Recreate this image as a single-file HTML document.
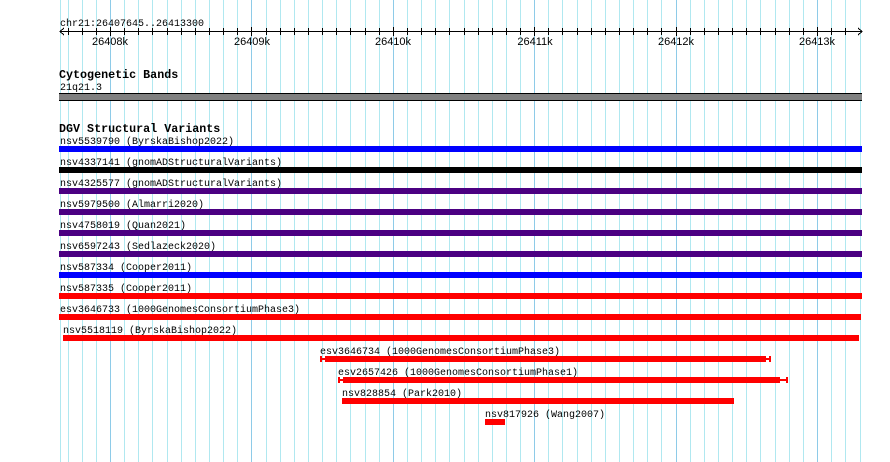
<!DOCTYPE html>
<html><head><meta charset="utf-8"><style>
html,body{margin:0;padding:0;background:#fff}
svg{display:block}
.m{font-family:"Liberation Mono","DejaVu Sans Mono",monospace;font-size:10px;fill:#000}
.b{font-family:"Liberation Mono","DejaVu Sans Mono",monospace;font-size:11.7px;font-weight:bold;fill:#000}
.t{font-family:"Liberation Sans","DejaVu Sans",sans-serif;font-size:11px;fill:#000}
</style></head><body>
<svg width="890" height="462" xmlns="http://www.w3.org/2000/svg" shape-rendering="crispEdges">
<path stroke="#b0e8f0" stroke-width="1" fill="none" d="M60.5 0V462M68.5 0V462M82.5 0V462M96.5 0V462M124.5 0V462M138.5 0V462M152.5 0V462M167.5 0V462M181.5 0V462M195.5 0V462M209.5 0V462M223.5 0V462M237.5 0V462M266.5 0V462M280.5 0V462M294.5 0V462M308.5 0V462M322.5 0V462M336.5 0V462M350.5 0V462M365.5 0V462M379.5 0V462M407.5 0V462M421.5 0V462M435.5 0V462M449.5 0V462M464.5 0V462M478.5 0V462M492.5 0V462M506.5 0V462M520.5 0V462M548.5 0V462M562.5 0V462M577.5 0V462M591.5 0V462M605.5 0V462M619.5 0V462M633.5 0V462M647.5 0V462M661.5 0V462M690.5 0V462M704.5 0V462M718.5 0V462M732.5 0V462M746.5 0V462M760.5 0V462M775.5 0V462M789.5 0V462M803.5 0V462M831.5 0V462M845.5 0V462M860.5 0V462"/>
<path stroke="#8ecbe8" stroke-width="1" fill="none" d="M110.5 0V462M251.5 0V462M393.5 0V462M534.5 0V462M676.5 0V462M817.5 0V462"/>
<path stroke="#000" stroke-width="1" fill="none" d="M68.5 28V35M82.5 28V35M96.5 28V35M124.5 28V35M138.5 28V35M152.5 28V35M167.5 28V35M181.5 28V35M195.5 28V35M209.5 28V35M223.5 28V35M237.5 28V35M266.5 28V35M280.5 28V35M294.5 28V35M308.5 28V35M322.5 28V35M336.5 28V35M350.5 28V35M365.5 28V35M379.5 28V35M407.5 28V35M421.5 28V35M435.5 28V35M449.5 28V35M464.5 28V35M478.5 28V35M492.5 28V35M506.5 28V35M520.5 28V35M548.5 28V35M562.5 28V35M577.5 28V35M591.5 28V35M605.5 28V35M619.5 28V35M633.5 28V35M647.5 28V35M661.5 28V35M690.5 28V35M704.5 28V35M718.5 28V35M732.5 28V35M746.5 28V35M760.5 28V35M775.5 28V35M789.5 28V35M803.5 28V35M831.5 28V35M845.5 28V35M110.5 27V36M251.5 27V36M393.5 27V36M534.5 27V36M676.5 27V36M817.5 27V36"/>
<text class="m" x="60" y="26">chr21:26407645..26413300</text>
<line x1="60" y1="31.5" x2="862" y2="31.5" stroke="#000"/>
<polyline points="64,28 60,31.5 64,35" fill="none" stroke="#000"/>
<polyline points="858,28 862,31.5 858,35" fill="none" stroke="#000"/>
<g class="t" text-anchor="middle">
<text x="110" y="45">26408k</text><text x="252" y="45">26409k</text><text x="393" y="45">26410k</text>
<text x="535" y="45">26411k</text><text x="676" y="45">26412k</text><text x="817" y="45">26413k</text>
</g>
<text class="b" x="59" y="78">Cytogenetic Bands</text>
<text class="m" x="60" y="90">21q21.3</text>
<rect x="59" y="93" width="803" height="8" fill="#000"/>
<rect x="59" y="94" width="803" height="6" fill="#808080"/>
<text class="b" x="59" y="132">DGV Structural Variants</text>
<g class="m">
<text x="60" y="144">nsv5539790 (ByrskaBishop2022)</text>
<text x="60" y="165">nsv4337141 (gnomADStructuralVariants)</text>
<text x="60" y="186">nsv4325577 (gnomADStructuralVariants)</text>
<text x="60" y="207">nsv5979500 (Almarri2020)</text>
<text x="60" y="228">nsv4758019 (Quan2021)</text>
<text x="60" y="249">nsv6597243 (Sedlazeck2020)</text>
<text x="60" y="270">nsv587334 (Cooper2011)</text>
<text x="60" y="291">nsv587335 (Cooper2011)</text>
<text x="60" y="312">esv3646733 (1000GenomesConsortiumPhase3)</text>
<text x="63" y="333">nsv5518119 (ByrskaBishop2022)</text>
<text x="320" y="354">esv3646734 (1000GenomesConsortiumPhase3)</text>
<text x="338" y="375">esv2657426 (1000GenomesConsortiumPhase1)</text>
<text x="342" y="396">nsv828854 (Park2010)</text>
<text x="485" y="417">nsv817926 (Wang2007)</text>
</g>
<rect x="59" y="146" width="803" height="6" fill="#0000ff"/>
<rect x="59" y="167" width="803" height="6" fill="#000"/>
<rect x="59" y="188" width="803" height="6" fill="#4b0082"/>
<rect x="59" y="209" width="803" height="6" fill="#4b0082"/>
<rect x="59" y="230" width="803" height="6" fill="#4b0082"/>
<rect x="59" y="251" width="803" height="6" fill="#4b0082"/>
<rect x="59" y="272" width="803" height="6" fill="#0000ff"/>
<rect x="59" y="293" width="803" height="6" fill="#ff0000"/>
<rect x="59" y="314" width="802" height="6" fill="#ff0000"/>
<rect x="63" y="335" width="796" height="6" fill="#ff0000"/>
<rect x="320" y="356" width="2" height="6" fill="#ff0000"/>
<rect x="322" y="358" width="3" height="2" fill="#ff0000"/>
<rect x="325" y="356" width="441" height="6" fill="#ff0000"/>
<rect x="766" y="358" width="3" height="2" fill="#ff0000"/>
<rect x="769" y="356" width="2" height="6" fill="#ff0000"/>
<rect x="338" y="377" width="2" height="6" fill="#ff0000"/>
<rect x="340" y="379" width="3" height="2" fill="#ff0000"/>
<rect x="343" y="377" width="437" height="6" fill="#ff0000"/>
<rect x="780" y="379" width="6" height="2" fill="#ff0000"/>
<rect x="786" y="377" width="2" height="6" fill="#ff0000"/>
<rect x="342" y="398" width="392" height="6" fill="#ff0000"/>
<rect x="485" y="419" width="20" height="6" fill="#ff0000"/>
</svg>
</body></html>
